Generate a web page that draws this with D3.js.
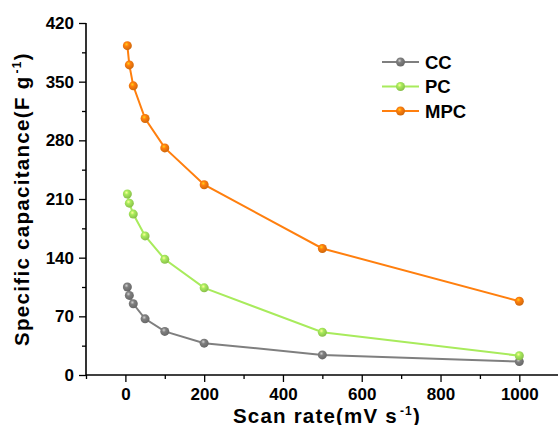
<!DOCTYPE html>
<html>
<head>
<meta charset="utf-8">
<script src="https://cdn.jsdelivr.net/npm/d3@7"></script>
<style>
  body { margin: 0; background: #fff; }
  text { font-family: "Liberation Sans", Arial, sans-serif; font-weight: bold; }
</style>
</head>
<body>
<div id="chart"></div>
<script>
// scan rates (mV s-1)
const scanRates = [5, 10, 20, 50, 100, 200, 500, 1000];
// specific capacitance (F g-1)
const ccValues = [105, 95, 85, 67, 52, 38, 24, 16];
const pcValues = [216, 205, 192, 166, 138, 104, 51, 23];
const mpcValues = [393, 370, 345, 306, 271, 227, 151, 88];

const seriesNames = ["CC", "PC", "MPC"];
const seriesColors = ["#7f7f7f", "#a8eb5c", "#ff7f0e"];
const xTicks = [0, 200, 400, 600, 800, 1000];
const yTicks = [0, 70, 140, 210, 280, 350, 420];

const width = 558;
const height = 425;
const margin = { top: 23, right: 0, bottom: 50, left: 86 };

const svg = d3
  .select("#chart")
  .append("svg")
  .attr("width", width)
  .attr("height", height);

const x = d3
  .scaleLinear()
  .domain([-100, 1100])
  .range([margin.left, width - margin.right + 0.7]);

const y = d3
  .scaleLinear()
  .domain([0, 420])
  .range([height - margin.bottom, margin.top]);

// sphere-like marker gradients
const defs = svg.append("defs");
seriesColors.forEach((c, i) => {
  const g = defs
    .append("radialGradient")
    .attr("id", "ball" + i)
    .attr("cx", "40%")
    .attr("cy", "35%")
    .attr("r", "65%");
  g.append("stop").attr("offset", "0%").attr("stop-color", d3.color(c).brighter(1.4));
  g.append("stop").attr("offset", "35%").attr("stop-color", c);
  g.append("stop").attr("offset", "100%").attr("stop-color", d3.color(c).darker(0.6));
});

// axes
const xAxis = svg
  .append("g")
  .attr("transform", `translate(0,${y(0)})`)
  .call(
    d3.axisBottom(x)
      .tickValues(xTicks)
      .tickSize(7)
      .tickPadding(6)
      .tickFormat(d3.format("d"))
  );
svg
  .append("g")
  .attr("transform", `translate(0,${y(0)})`)
  .call(
    d3.axisBottom(x)
      .tickValues(d3.range(-100, 1101, 100).filter((v) => v % 200 !== 0))
      .tickSize(4)
      .tickFormat("")
  )
  .select(".domain")
  .remove();

const yAxis = svg
  .append("g")
  .attr("transform", `translate(${x(-100)},0)`)
  .call(d3.axisLeft(y).tickValues(yTicks).tickSize(7).tickPadding(5));
svg
  .append("g")
  .attr("transform", `translate(${x(-100)},0)`)
  .call(
    d3.axisLeft(y)
      .tickValues(d3.range(35, 420, 70))
      .tickSize(4)
      .tickFormat("")
  )
  .select(".domain")
  .remove();

[xAxis, yAxis].forEach((a) => {
  a.selectAll(".domain").attr("stroke", "#000").attr("stroke-width", 1.6);
  a.selectAll(".tick text")
    .attr("fill", "#000")
    .style("font-size", "17px");
});
svg.selectAll(".tick line").attr("stroke", "#000").attr("stroke-width", 1.3);
yAxis.selectAll(".domain").attr("d", `M0,${y(420)}V${y(0)}`);
xAxis.selectAll(".domain").attr("d", `M${x(-100)},0H${x(1100)}`);

// axis titles
const xTitle = svg
  .append("text")
  .attr("x", 327)
  .attr("y", 422.5)
  .attr("text-anchor", "middle")
  .style("font-size", "20.5px")
  .style("letter-spacing", "1.2px")
  .attr("fill", "#000");
xTitle.append("tspan").text("Scan rate(mV s");
xTitle.append("tspan").attr("dy", -8).attr("dx", 2).style("font-size", "12px").text("-1");
xTitle.append("tspan").attr("dy", 8).text(")");

const yTitle = svg
  .append("text")
  .attr("transform", `translate(29,199) rotate(-90)`)
  .attr("text-anchor", "middle")
  .style("font-size", "20.5px")
  .style("letter-spacing", "1.3px")
  .attr("fill", "#000");
yTitle.append("tspan").text("Specific capacitance(F g");
yTitle.append("tspan").attr("dy", -8).attr("dx", 2).style("font-size", "12px").text("-1");
yTitle.append("tspan").attr("dy", 8).text(")");

// series
const seriesData = [ccValues, pcValues, mpcValues];
const line = d3
  .line()
  .x((d) => x(d[0]))
  .y((d) => y(d[1]));

seriesData.forEach((vals, i) => {
  const pts = scanRates.map((r, j) => [r, vals[j]]);
  svg
    .append("path")
    .datum(pts)
    .attr("d", line)
    .attr("fill", "none")
    .attr("stroke", seriesColors[i])
    .attr("stroke-width", 2);
  svg
    .append("g")
    .selectAll("circle")
    .data(pts)
    .join("circle")
    .attr("cx", (d) => x(d[0]))
    .attr("cy", (d) => y(d[1]))
    .attr("r", 4.5)
    .attr("fill", `url(#ball${i})`);
});

// legend
const legend = svg.append("g").attr("transform", "translate(382,62)");
seriesNames.forEach((name, i) => {
  const row = legend.append("g").attr("transform", `translate(0,${i * 24.5})`);
  row
    .append("line")
    .attr("x1", 0)
    .attr("x2", 37)
    .attr("stroke", seriesColors[i])
    .attr("stroke-width", 2);
  row
    .append("circle")
    .attr("cx", 18.5)
    .attr("r", 4.5)
    .attr("fill", `url(#ball${i})`);
  row
    .append("text")
    .attr("x", 43)
    .attr("dy", "0.36em")
    .style("font-size", "18.5px")
    .attr("fill", "#000")
    .text(name);
});
</script>
</body>
</html>
